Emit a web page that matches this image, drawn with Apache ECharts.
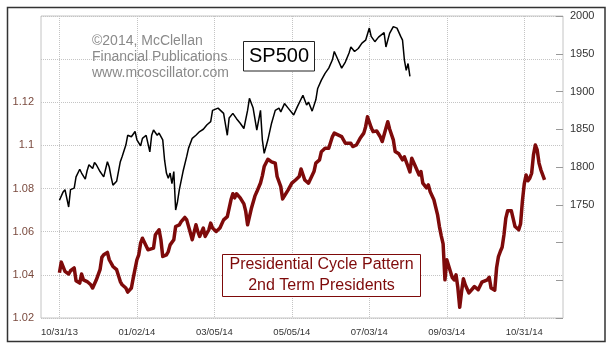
<!DOCTYPE html>
<html>
<head>
<meta charset="utf-8">
<script src="https://cdn.jsdelivr.net/npm/echarts@6/dist/echarts.min.js"></script>
<style>
html,body{margin:0;padding:0;background:#fff;}
#c{width:616px;height:355px;}
</style>
</head>
<body>
<div id="c"></div>
<script>
// x positions are trading-day indices counted from 10/31/13
var tickDays = [0, 42, 84, 126, 168, 210, 252];
var tickLabels = ['10/31/13', '01/02/14', '03/05/14', '05/05/14', '07/03/14', '09/03/14', '10/31/14'];

var spDays = [0,2,3,5,6,8,9,11,12,14,15,16,18,19,20,22,24,26,27,28,29,31,32,33,34,36,37,39,41,42,44,45,47,49,50,51,53,54,56,57,58,59,60,61,62,63,64,65,67,69,70,72,74,76,78,80,82,83,86,89,91,92,94,96,98,100,102,103,105,107,109,110,111,113,115,117,119,120,122,124,127,129,132,134,135,137,139,140,142,144,146,148,149,151,153,155,157,158,160,162,164,166,168,169,171,173,174,176,177,179,181,183,185,186,187,188,189,190];
var spValues = [1756,1767,1770,1747,1770,1772,1787,1797,1792,1784,1795,1803,1798,1806,1803,1794,1787,1807,1800,1787,1776,1781,1783,1807,1814,1829,1842,1840,1847,1836,1828,1838,1842,1820,1842,1849,1842,1845,1836,1809,1792,1785,1792,1778,1794,1743,1754,1770,1794,1814,1825,1838,1842,1847,1850,1856,1860,1875,1878,1871,1842,1865,1871,1864,1858,1851,1875,1891,1878,1849,1875,1836,1818,1836,1858,1875,1878,1873,1884,1878,1869,1880,1895,1882,1886,1874,1889,1904,1915,1924,1931,1942,1953,1942,1931,1939,1951,1959,1953,1957,1964,1968,1984,1973,1966,1972,1974,1978,1959,1977,1986,1984,1973,1968,1942,1928,1937,1920];

var cycDays = [0,1,2,3,5,6,8,9,11,12,13,15,17,18,20,22,23,24,26,27,29,31,33,34,36,37,39,40,42,43,44,45,46,48,49,51,52,54,55,56,58,59,60,62,63,65,66,68,69,71,72,74,75,76,78,79,81,82,83,85,87,89,91,93,94,95,96,98,100,101,102,104,106,107,109,110,111,113,114,115,117,118,120,121,122,124,126,128,130,131,133,135,136,138,139,141,142,144,146,148,149,151,153,155,156,158,159,161,163,165,166,167,169,170,172,174,175,177,178,179,181,182,184,186,187,189,190,191,193,195,196,197,199,200,201,203,204,205,206,207,208,209,210,211,213,214,215,216,217,218,219,220,222,223,225,227,229,230,232,233,234,236,237,238,239,240,241,242,243,245,246,247,249,250,251,252,253,254,255,256,257,258,259,260,261,263];
var cycValues = [1.0410,1.0459,1.0450,1.0416,1.0404,1.0419,1.0432,1.0373,1.0362,1.0404,
1.0377,1.0369,1.0354,1.0339,1.0377,1.0424,1.0481,1.0493,1.0504,1.0470,
1.0439,1.0424,1.0369,1.0354,1.0339,1.0320,1.0339,1.0385,1.0470,1.0493,
1.0547,1.0570,1.0563,1.0516,1.0516,1.0524,1.0586,1.0609,1.0563,1.0485,
1.0493,1.0508,1.0539,1.0563,1.0624,1.0632,1.0647,1.0666,1.0655,1.0594,
1.0563,1.0632,1.0601,1.0578,1.0617,1.0578,1.0609,1.0640,1.0617,1.0601,
1.0617,1.0655,1.0670,1.0748,1.0776,1.0757,1.0776,1.0757,1.0729,1.0694,
1.0632,1.0706,1.0766,1.0785,1.0826,1.0859,1.0902,1.0936,1.0933,1.0924,
1.0918,1.0856,1.0809,1.0752,1.0756,1.0794,1.0825,1.0840,1.0856,1.0891,
1.0840,1.0825,1.0832,1.0879,1.0918,1.0933,1.0971,1.0987,1.0987,1.1041,
1.1057,1.1049,1.1041,1.1010,1.1002,1.1010,1.0995,1.1002,1.1033,1.1057,
1.1087,1.1133,1.1083,1.1064,1.1067,1.1039,1.1018,1.1080,1.1110,1.1076,
1.1026,1.0972,1.0961,1.0933,1.0947,1.0902,1.0877,1.0941,1.0902,1.0863,
1.0879,1.0825,1.0803,1.0817,1.0785,1.0748,1.0741,1.0678,1.0624,1.0581,
1.0544,1.0377,1.0470,1.0461,1.0387,1.0377,1.0400,1.0340,1.0250,1.0322,
1.0382,1.0354,1.0316,1.0322,1.0346,1.0331,1.0366,1.0363,1.0377,1.0389,
1.0339,1.0329,1.0433,1.0485,1.0508,1.0528,1.0586,1.0663,1.0697,1.0697,
1.0694,1.0624,1.0609,1.0637,1.0743,1.0822,1.0863,1.0836,1.0848,1.0871,
1.0956,1.1002,1.0979,1.0918,1.0887,1.0840];

var FIRST_DAY = -10, LAST_DAY = 273;
var cats = [];
for (var d = FIRST_DAY; d <= LAST_DAY; d++) cats.push(String(d));

function pairs(days, vals) {
  return days.map(function (dd, i) { return [String(dd), vals[i]]; });
}
function isTick(idx, val) { return tickDays.indexOf(Number(val)) >= 0; }

var FONT = '"Liberation Sans", Arial, sans-serif';
var RED = '#7e0a0a';

var chart = echarts.init(document.getElementById('c'), null, {renderer: 'canvas'});
chart.setOption({
  backgroundColor: '#fff',
  animation: false,
  grid: {left: 41, top: 16, width: 522, height: 302, show: true, borderColor: '#c4c4c4', borderWidth: 1, backgroundColor: 'transparent', containLabel: false},
  xAxis: {
    type: 'category', data: cats, boundaryGap: false,
    axisLine: {show: false}, axisTick: {show: false},
    axisLabel: {interval: isTick, margin: 9, color: '#333', fontFamily: FONT, fontSize: 9.5,
      formatter: function (v) { var k = tickDays.indexOf(Number(v)); return k >= 0 ? tickLabels[k] : ''; }},
    splitLine: {show: true, interval: isTick, lineStyle: {color: '#c4c4c4', type: [1, 1], width: 1}}
  },
  yAxis: [{
    type: 'value', position: 'left', min: 1.02, max: 1.16, interval: 0.02,
    axisLine: {show: false}, axisTick: {show: false},
    axisLabel: {margin: 7, color: '#7a4a3e', fontFamily: FONT, fontSize: 11,
      formatter: function (v) { return v <= 1.125 ? String(+v.toFixed(2)) : ''; }},
    splitLine: {show: true, lineStyle: {color: '#c4c4c4', type: [1, 1], width: 1}}
  }, {
    type: 'value', position: 'right', min: 1600, max: 2000, interval: 50,
    axisLine: {show: false},
    axisTick: {show: true, inside: true, length: 7, lineStyle: {color: '#999'}},
    axisLabel: {margin: 7, color: '#333', fontFamily: FONT, fontSize: 11,
      formatter: function (v) { return v >= 1750 ? String(v) : ''; }},
    splitLine: {show: false}
  }],
  series: [{
    name: 'SP500', type: 'line', yAxisIndex: 1, data: pairs(spDays, spValues),
    showSymbol: false, symbol: 'none', lineStyle: {color: '#000', width: 1.5}, z: 3
  }, {
    name: 'Presidential Cycle', type: 'line', yAxisIndex: 0, data: pairs(cycDays, cycValues),
    showSymbol: false, symbol: 'none', lineStyle: {color: RED, width: 3.5, join: 'round'}, z: 4
  }],
  graphic: [
    {type: 'rect', shape: {x: 7.5, y: 7.5, width: 597.5, height: 334}, style: {fill: 'none', stroke: '#333', lineWidth: 1.5}, z: 10, silent: true},
    {type: 'text', x: 92, y: 40.7, style: {text: '\u00a92014, McClellan', font: '14px ' + FONT, fill: '#8a8a8a', textVerticalAlign: 'middle'}, z: 10},
    {type: 'text', x: 92, y: 56.7, style: {text: 'Financial Publications', font: '14px ' + FONT, fill: '#8a8a8a', textVerticalAlign: 'middle'}, z: 10},
    {type: 'text', x: 92, y: 72.7, style: {text: 'www.mcoscillator.com', font: '14px ' + FONT, fill: '#8a8a8a', textVerticalAlign: 'middle'}, z: 10},
    {type: 'rect', shape: {x: 243.5, y: 41.5, width: 71, height: 29.5}, style: {fill: '#fff', stroke: '#222', lineWidth: 1}, z: 10},
    {type: 'text', x: 279, y: 56.5, style: {text: 'SP500', font: '20px ' + FONT, fill: '#000', textAlign: 'center', textVerticalAlign: 'middle'}, z: 11},
    {type: 'rect', shape: {x: 222.5, y: 254.5, width: 198, height: 42}, style: {fill: '#fff', stroke: RED, lineWidth: 1}, z: 10},
    {type: 'text', x: 321.5, y: 264.5, style: {text: 'Presidential Cycle Pattern', font: '16px ' + FONT, fill: RED, textAlign: 'center', textVerticalAlign: 'middle'}, z: 11},
    {type: 'text', x: 321.5, y: 285.5, style: {text: '2nd Term Presidents', font: '16px ' + FONT, fill: RED, textAlign: 'center', textVerticalAlign: 'middle'}, z: 11}
  ]
});
</script>
</body>
</html>
